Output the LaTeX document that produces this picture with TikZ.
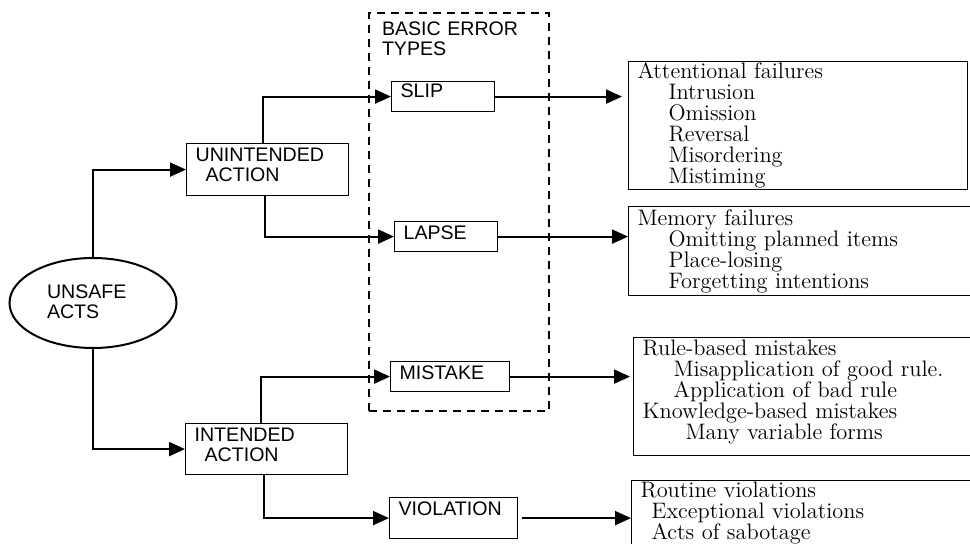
\documentclass[tikz,border=0pt]{standalone}
\usepackage{fontspec}
\setsansfont{Liberation Sans}
\usetikzlibrary{arrows.meta,shapes.geometric}

\begin{document}
\begin{tikzpicture}[x=0.5pt,y=-0.5pt,
    conn/.style={line width=1pt,-{Triangle[length=8pt,width=7pt]}},
    typebox/.style={draw,line width=0.6pt,anchor=north west,align=left,inner xsep=4.5pt,inner ysep=0pt,
      text height=9pt,font=\sffamily\fontsize{9.8pt}{10pt}\selectfont},
    listbox/.style={draw,line width=0.6pt,anchor=north west,align=left,inner xsep=4.5pt,inner ysep=0pt,
      text height=8.5pt,font=\fontsize{11.2pt}{10.5pt}\selectfont}]
    \useasboundingbox (0,0) rectangle (970,544);
    % frame of the basic error types
    \node[typebox,line width=1pt,dash pattern=on 4pt off 3pt,inner xsep=6.5pt,text width=77pt,
      text height=11.5pt,text depth=187.5pt] (types) at (368,12) {BASIC ERROR\\TYPES};
    % acts and actions
    \node[draw,ellipse,line width=1pt,minimum width=83.5pt,minimum height=45pt,inner sep=0pt,
      text width=46pt,align=left,text height=9pt,text depth=13pt,
      font=\sffamily\fontsize{9.8pt}{10pt}\selectfont] (unsafe) at (93,303) {UNSAFE\\ACTS};
    \node[typebox,text width=72pt,text depth=17pt] (unint) at (186,143) {UNINTENDED\\\hspace*{5pt}ACTION};
    \node[typebox,text width=72pt,text depth=16.5pt] (int) at (185,423) {INTENDED\\\hspace*{5pt}ACTION};
    % error types
    \node[typebox,text width=42.5pt,text depth=7pt,text height=8pt] (slip) at (391,81) {SLIP};
    \node[typebox,text width=42.5pt,text depth=6pt] (lapse) at (394,221) {LAPSE};
    \node[typebox,text width=50.5pt,text depth=6pt] (mistake) at (390,361) {MISTAKE};
    \node[typebox,text width=55pt,text depth=11.5pt] (violation) at (389,497) {VIOLATION};
    % failure lists
    \node[listbox,text width=160.5pt,text depth=55.5pt] (att) at (628,61) {Attentional failures\\
      \hspace*{15.5pt}Intrusion\\
      \hspace*{15.5pt}Omission\\
      \hspace*{15.5pt}Reversal\\
      \hspace*{15.5pt}Misordering\\
      \hspace*{15.5pt}Mistiming};
    \node[listbox,text width=164.5pt,text height=9.5pt,text depth=35pt] (mem) at (628,206) {Memory failures\\
      \hspace*{15.5pt}Omitting planned items\\
      \hspace*{15.5pt}Place-losing\\
      \hspace*{15.5pt}Forgetting intentions};
    \node[listbox,text width=162pt,text height=9pt,text depth=50pt] (rule) at (633,337) {Rule-based mistakes\\
      \hspace*{15.5pt}Misapplication of good rule.\\
      \hspace*{15.5pt}Application of bad rule\\
      Knowledge-based mistakes\\
      \hspace*{21.5pt}Many variable forms};
    \node[listbox,text width=163pt,text depth=26.5pt] (routine) at (631,480) {Routine violations\\
      \hspace*{5.5pt}Exceptional violations\\
      \hspace*{5.5pt}Acts of sabotage};
    % connectors
    \draw[conn] (unsafe.north) |- (unint.west);
    \draw[conn] (unsafe.south) |- (int.west);
    \draw[conn] ([xshift=-2.5pt]unint.north) |- (slip.west);
    \draw[conn] ([xshift=-1.5pt]unint.south) |- (lapse.west);
    \draw[conn] ([xshift=-3pt]int.north) |- (mistake.west);
    \draw[conn] ([xshift=-1.5pt]int.south) |- (violation.west);
    \draw[conn,shorten >=3pt] (slip.east) -- (slip.east -| att.west);
    \draw[conn] (lapse.east) -- (lapse.east -| mem.west);
    \draw[conn,shorten >=1.5pt] (mistake.east) -- (mistake.east -| rule.west);
    \draw[conn,shorten <=2pt] (violation.east) -- (violation.east -| routine.west);
\end{tikzpicture}
\end{document}
